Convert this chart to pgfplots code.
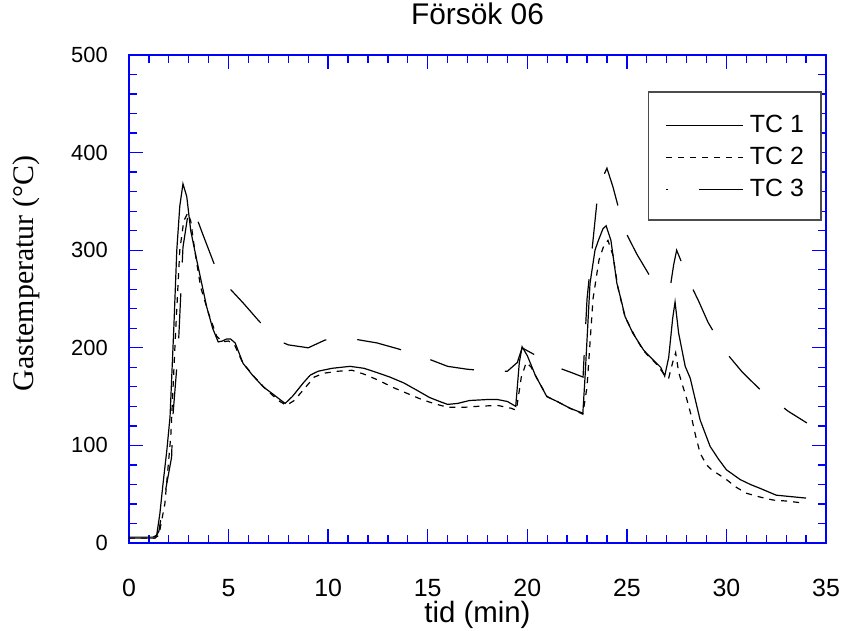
\documentclass[border=0pt]{standalone}
\usepackage{fontspec}
\setmainfont{Liberation Sans}
\newfontfamily\seriffont{Liberation Serif}
\usepackage{pgfplots}
\pgfplotsset{compat=1.18}
\pgfplotsset{
  tcthree legend/.style={legend image code/.code={\draw[##1, line width=1.2bp, dash phase=43bp] (0bp,-2bp) -- (77bp,-2bp);}},
}
\begin{document}
\begin{tikzpicture}
\begin{axis}[name=ax, scale only axis, width=697bp, height=488bp,
  xmin=0, xmax=35, ymin=0, ymax=500,
  xtick={0,5,...,35}, ytick={0,100,...,500},
  minor x tick num=4, minor y tick num=4,
  tick align=inside, major tick length=14bp, minor tick length=8bp,
  axis line style={blue, line width=1.5bp},
  tick style={blue, line width=1.3bp},
  /pgf/number format/assume math mode=true,
  xticklabel style={font=\fontsize{25}{30}\selectfont, anchor=base, inner sep=0pt, yshift=-53bp},
  yticklabel style={font=\fontsize{22}{26}\selectfont, anchor=east, inner sep=0pt, xshift=-21bp},
  title={Försök 06},
  title style={at={(axis description cs:0.5,1.0512)}, anchor=base, inner sep=0pt, font=\fontsize{30}{35}\selectfont},
  xlabel={tid (min)},
  xlabel style={at={(axis description cs:0.5,-0.1639)}, anchor=base, inner sep=0pt, font=\fontsize{29.5}{34}\selectfont},
  ylabel={Gastemperatur (°C)},
  ylabel style={at={(axis description cs:-0.1377,0.552)}, anchor=base, inner sep=0pt, font=\seriffont\fontsize{30}{35}\selectfont},
  legend image code/.code={\draw[#1, line width=1.2bp] (0bp,-2bp) -- (77bp,-2bp);},
  legend cell align=left,
  legend style={at={(axis description cs:0.7446,0.926)}, anchor=north west,
    draw=black!70, line width=1.5bp, inner xsep=17bp, inner ysep=23.5bp,
    row sep=15bp, column sep=6bp, font=\fontsize{25}{29}\selectfont,
    nodes={inner sep=0pt, text height=17bp, text depth=0pt}},
]
\addplot[black, line width=1.2bp] coordinates {
(0,6) (1.2,6) (1.39,8) (1.55,30) (1.71,61) (1.9,95) (2.06,129) (2.25,220) (2.4,300) (2.55,345) (2.71,368) (2.9,355) (3.1,320)
(3.4,290) (3.9,242) (4.2,220) (4.48,206) (4.7,207) (4.9,209) (5.1,209) (5.33,205) (5.73,184)
(6.2,172) (6.74,160) (7.2,153) (7.58,147) (7.84,143) (8.2,150) (8.75,164) (9.1,172) (9.5,176)
(10.2,179) (11.1,181) (11.8,179) (12.4,175) (13.1,170) (13.8,164) (14.5,156) (15.1,149) (15.6,145)
(16.0,142) (16.5,143) (17.1,146) (18.0,147) (18.5,147) (19.0,145) (19.42,140) (19.6,185) (19.74,201)
(20.0,192) (20.4,172) (20.98,150) (21.5,145) (22.15,138) (22.79,133) (22.9,170) (23.15,266) (23.4,300)
(23.57,310) (23.8,322) (23.96,325) (24.2,310) (24.5,266) (24.7,250) (24.91,232) (25.3,215) (25.83,198)
(26.1,192) (26.5,184) (26.7,180) (26.9,171) (27.1,190) (27.3,230) (27.42,247) (27.6,215) (27.93,181)
(28.18,169) (28.4,150) (28.68,126) (29.18,99) (29.6,86) (30.0,75) (30.69,65) (31.2,60) (31.69,56)
(32.5,49) (33.0,48) (34.0,46)
};
\addlegendentry{TC 1}
\addplot[black, line width=1.2bp, dash pattern=on 6bp off 6bp] coordinates {
(0,5) (1.3,5) (1.5,8) (1.8,40) (2.1,110) (2.35,220) (2.55,300) (2.75,330) (2.95,338) (3.1,330)
(3.3,300) (3.6,262) (4.0,235) (4.4,212) (4.7,206) (5.0,207) (5.3,203) (5.7,185) (6.3,170) (6.9,157)
(7.5,146) (7.9,141) (8.3,146) (8.8,158) (9.3,170) (9.8,174) (10.5,176) (11.2,177) (11.8,173) (12.5,167)
(13.3,159) (14.0,153) (14.7,147) (15.3,143) (16.0,139) (16.8,139) (17.5,140) (18.5,141) (19.2,138)
(19.45,136) (19.7,170) (19.95,185) (20.2,180) (20.5,168) (21.0,150) (21.5,145) (22.15,138) (22.79,132)
(23.0,160) (23.3,250) (23.6,290) (23.85,305) (24.05,310) (24.3,295) (24.55,262) (24.9,232) (25.4,212)
(25.83,197) (26.5,183) (26.9,172) (27.1,169) (27.3,185) (27.45,195) (27.6,175) (27.76,164) (28.0,148)
(28.2,133) (28.45,110) (28.68,92) (29.0,80) (29.26,75) (30.0,65) (30.5,57) (31.0,51) (31.7,47)
(32.35,44) (33.0,43) (33.85,41)
};
\addlegendentry{TC 2}
\addplot[black, line width=1.2bp, dash pattern=on 45bp off 31bp, tcthree legend] coordinates {
(0,5) (1.3,5) (1.5,12) (1.8,50) (2.14,88) (2.2,129) (2.47,198) (2.71,303) (2.95,335) (3.15,346)
(3.4,333) (3.73,315) (4.52,273) (5.0,262) (5.73,246) (6.5,228) (7.42,208) (8.0,203) (9.0,200)
(9.85,208) (11.0,210) (12.45,205) (13.5,199) (14.6,192) (16.0,181) (17.0,178) (18.2,176) (19.0,176)
(19.5,185) (19.74,200) (20.0,197) (20.9,187) (21.5,180) (22.3,174) (22.8,170) (23.0,250) (23.5,350)
(23.8,375) (24.0,384) (24.3,365) (24.56,345) (25.0,316) (25.5,296) (26.17,273) (26.7,265) (27.17,261)
(27.35,285) (27.5,300) (27.7,290) (28.08,270) (28.6,248) (29.08,226) (29.94,196) (30.8,175) (31.7,157)
(32.4,146) (33.1,135) (34.04,123)
};
\addlegendentry{TC 3}
\end{axis}
\pgfresetboundingbox
\path ([shift={(-129bp,-88bp)}]ax.south west) rectangle ([shift={(16bp,55bp)}]ax.north east);
\end{tikzpicture}
\end{document}
